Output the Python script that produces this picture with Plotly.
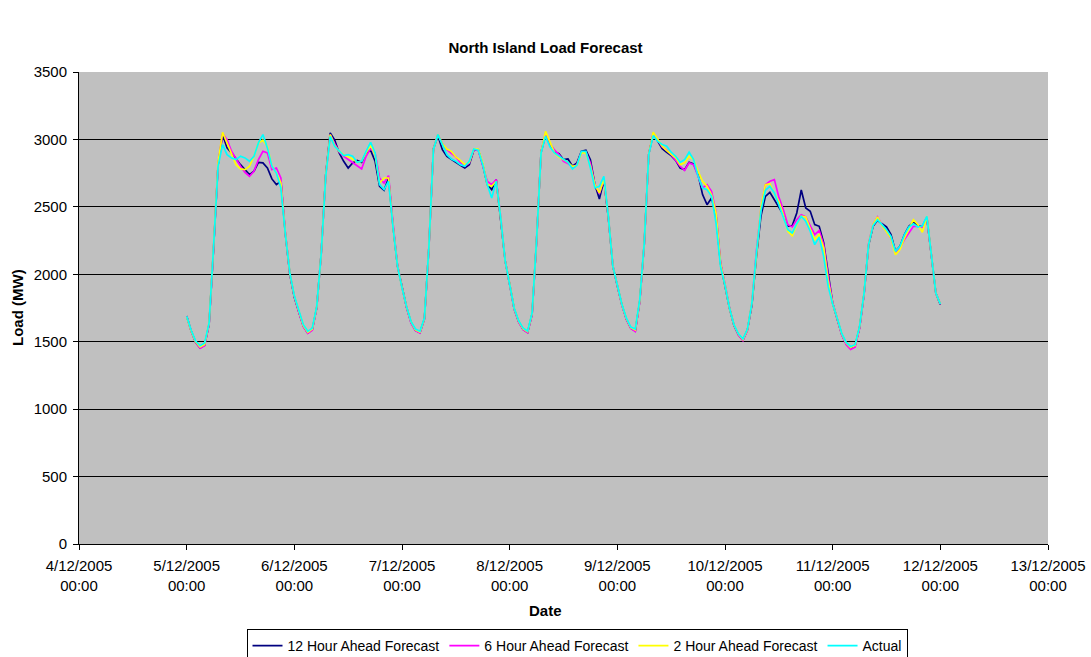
import pandas as pd
import plotly.graph_objects as go

# Hourly loads (MW), 5/12/2005 00:00 to 12/12/2005 00:00
hours = pd.date_range("2005-12-05 00:00", "2005-12-12 00:00", freq="h")

actual = [
    1688, 1585, 1505, 1470, 1490, 1640, 2207, 2800, 2961, 2887, 2863, 2850, 2875, 2863, 2838, 2875, 2974, 3036, 2937, 2801, 2751, 2640, 2300, 2010,
    1840, 1725, 1626, 1577, 1601, 1762, 2158, 2727, 3023, 2949, 2912, 2880, 2887, 2875, 2830, 2838, 2912, 2979, 2900, 2665, 2628, 2690, 2350, 2060,
    1900, 1762, 1651, 1594, 1577, 1676, 2207, 2924, 3036, 2962, 2887, 2855, 2838, 2813, 2801, 2838, 2929, 2920, 2813, 2665, 2566, 2690, 2420, 2100,
    1930, 1750, 1656, 1601, 1579, 1713, 2257, 2900, 3023, 2944, 2900, 2875, 2850, 2830, 2781, 2808, 2912, 2912, 2788, 2640, 2652, 2727, 2430, 2060,
    1920, 1780, 1676, 1609, 1594, 1812, 2232, 2887, 3028, 2986, 2962, 2949, 2905, 2875, 2830, 2850, 2905, 2850, 2727, 2640, 2628, 2578, 2380, 2059,
    1920, 1750, 1626, 1559, 1520, 1594, 1787, 2158, 2467, 2623, 2652, 2603, 2516, 2417, 2331, 2306, 2375, 2430, 2393, 2319, 2220, 2277, 2133, 1910,
    1780, 1676, 1564, 1495, 1465, 1478, 1614, 1861, 2220, 2361, 2405, 2368, 2331, 2281, 2170, 2207, 2294, 2351, 2375, 2351, 2360, 2430, 2158, 1861,
    1780,
]

ahead_12h = [
    1690, 1580, 1495, 1455, 1475, 1630, 2190, 2810, 3036, 2937, 2900, 2855, 2813, 2776, 2739, 2764, 2830, 2826, 2788, 2707, 2665, 2690, 2300, 2000,
    1830, 1720, 1615, 1565, 1590, 1755, 2160, 2740, 3048, 2994, 2900, 2838, 2788, 2826, 2845, 2830, 2900, 2920, 2838, 2652, 2623, 2714, 2356, 2060,
    1900, 1758, 1645, 1585, 1568, 1670, 2200, 2930, 3028, 2924, 2875, 2855, 2830, 2808, 2788, 2813, 2920, 2924, 2813, 2665, 2628, 2702, 2420, 2100,
    1925, 1745, 1648, 1592, 1570, 1705, 2250, 2905, 3036, 2962, 2907, 2895, 2850, 2855, 2801, 2826, 2912, 2920, 2850, 2665, 2558, 2697, 2420, 2060,
    1915, 1775, 1668, 1600, 1580, 1800, 2225, 2890, 3043, 2991, 2932, 2905, 2880, 2845, 2788, 2776, 2830, 2818, 2739, 2591, 2516, 2566, 2440, 2080,
    1925, 1748, 1620, 1552, 1512, 1588, 1775, 2133, 2430, 2578, 2608, 2553, 2499, 2442, 2356, 2361, 2455, 2625, 2492, 2467, 2368, 2356, 2232, 2009,
    1785, 1670, 1555, 1485, 1450, 1470, 1605, 1855, 2215, 2356, 2400, 2375, 2351, 2294, 2170, 2207, 2294, 2356, 2385, 2361, 2356, 2418, 2158, 1861,
    1775,
]

ahead_6h = [
    1688, 1578, 1495, 1452, 1470, 1630, 2200, 2820, 3043, 2999, 2912, 2855, 2801, 2756, 2727, 2764, 2850, 2912, 2900, 2776, 2788, 2714, 2310, 2005,
    1835, 1718, 1612, 1562, 1585, 1750, 2160, 2735, 3036, 2969, 2907, 2875, 2850, 2830, 2801, 2781, 2875, 2932, 2900, 2714, 2677, 2732, 2380, 2065,
    1905, 1755, 1640, 1582, 1565, 1668, 2200, 2930, 3036, 2969, 2924, 2900, 2870, 2830, 2801, 2826, 2924, 2920, 2806, 2690, 2665, 2702, 2425, 2100,
    1928, 1742, 1645, 1590, 1568, 1700, 2250, 2905, 3048, 2969, 2920, 2887, 2838, 2821, 2796, 2813, 2905, 2905, 2826, 2665, 2598, 2702, 2430, 2065,
    1918, 1772, 1665, 1598, 1575, 1795, 2225, 2890, 3048, 2999, 2944, 2920, 2887, 2845, 2801, 2771, 2826, 2813, 2732, 2640, 2665, 2615, 2460, 2090,
    1928, 1752, 1622, 1550, 1508, 1585, 1787, 2170, 2479, 2665, 2690, 2702, 2573, 2479, 2368, 2351, 2405, 2442, 2425, 2356, 2294, 2324, 2220, 1985,
    1790, 1672, 1552, 1480, 1442, 1460, 1600, 1850, 2225, 2368, 2425, 2368, 2319, 2269, 2163, 2195, 2257, 2306, 2356, 2356, 2351, 2425, 2158, 1861,
    1778,
]

ahead_2h = [
    1685, 1580, 1500, 1462, 1480, 1640, 2210, 2830, 3053, 2974, 2900, 2813, 2781, 2776, 2801, 2875, 2974, 2994, 2949, 2801, 2751, 2677, 2305, 2008,
    1838, 1722, 1620, 1570, 1595, 1758, 2160, 2735, 3036, 2954, 2912, 2887, 2870, 2855, 2830, 2838, 2900, 2954, 2887, 2677, 2714, 2714, 2356, 2062,
    1902, 1760, 1648, 1588, 1572, 1672, 2205, 2928, 3036, 2969, 2929, 2912, 2870, 2845, 2813, 2830, 2929, 2929, 2826, 2665, 2652, 2690, 2420, 2100,
    1930, 1748, 1652, 1596, 1575, 1710, 2255, 2905, 3060, 2974, 2900, 2870, 2850, 2830, 2801, 2806, 2900, 2900, 2801, 2665, 2603, 2707, 2430, 2062,
    1920, 1778, 1672, 1605, 1588, 1805, 2230, 2890, 3053, 2999, 2949, 2917, 2887, 2863, 2813, 2826, 2875, 2850, 2764, 2690, 2652, 2590, 2455, 2080,
    1922, 1750, 1625, 1556, 1515, 1590, 1790, 2170, 2492, 2665, 2672, 2598, 2541, 2442, 2319, 2286, 2368, 2430, 2425, 2336, 2257, 2294, 2195, 1948,
    1782, 1675, 1560, 1490, 1458, 1472, 1610, 1860, 2220, 2368, 2425, 2361, 2319, 2269, 2145, 2183, 2269, 2343, 2405, 2368, 2311, 2430, 2158, 1861,
    1780,
]

# Daily tick positions and their two-line labels
tick_dates = pd.date_range("2005-12-04", "2005-12-13", freq="D")
tick_labels = [d.strftime("%-d/%m/%Y") + "<br>00:00" for d in tick_dates]

series = [
    ("12 Hour Ahead Forecast", ahead_12h, "#000080"),
    ("6 Hour Ahead Forecast", ahead_6h, "#FF00FF"),
    ("2 Hour Ahead Forecast", ahead_2h, "#FFFF00"),
    ("Actual", actual, "#00FFFF"),
]

FONT = "Liberation Sans, Arial, sans-serif"
W, H = 1091, 657

fig = go.Figure()
for name, values, color in series:
    fig.add_trace(go.Scatter(
        x=hours, y=values, name=name, mode="lines",
        line=dict(color=color, width=1.7),
    ))

fig.update_layout(
    width=W, height=H,
    margin=dict(l=79, r=43, t=72, b=113, autoexpand=False),
    paper_bgcolor="white",
    plot_bgcolor="#C0C0C0",
    font=dict(family=FONT, size=15, color="black"),
    title=dict(
        text="<b>North Island Load Forecast</b>",
        x=0.5, xref="container", xanchor="center",
        y=1 - 48 / H, yref="container", yanchor="middle",
        font=dict(size=15, family=FONT),
    ),
    showlegend=True,
    legend=dict(
        orientation="h",
        xref="container", x=577 / W, xanchor="center",
        yref="container", y=1 - 629 / H, yanchor="top",
        bordercolor="black", borderwidth=1,
        bgcolor="white",
        font=dict(size=14, family=FONT),
        itemwidth=30,
    ),
    xaxis=dict(
        type="date",
        range=[tick_dates[0], tick_dates[-1]],
        tickmode="array",
        tickvals=tick_dates,
        ticktext=tick_labels,
        ticks="outside", ticklen=5, tickcolor="black",
        ticklabelstandoff=3,
        showline=True, linecolor="black", linewidth=1,
        showgrid=False, zeroline=False,
        tickfont=dict(size=15),
    ),
    yaxis=dict(
        range=[0, 3500],
        tickmode="linear", tick0=0, dtick=500,
        ticks="outside", ticklen=5, tickcolor="black",
        ticklabelstandoff=3,
        showline=True, linecolor="black", linewidth=1,
        showgrid=True, gridcolor="black", gridwidth=1,
        zeroline=False,
        tickfont=dict(size=15),
    ),
    annotations=[
        dict(text="<b>Date</b>", xref="paper", yref="paper",
             x=(545.5 - 79) / 969, y=-(610 - 544) / 472,
             xanchor="center", yanchor="middle", showarrow=False,
             font=dict(size=15)),
        dict(text="<b>Load (MW)</b>", xref="paper", yref="paper",
             x=(17 - 79) / 969, y=0.5, textangle=-90,
             xanchor="center", yanchor="middle", showarrow=False,
             font=dict(size=15)),
    ],
)

fig.write_html("out.html")
